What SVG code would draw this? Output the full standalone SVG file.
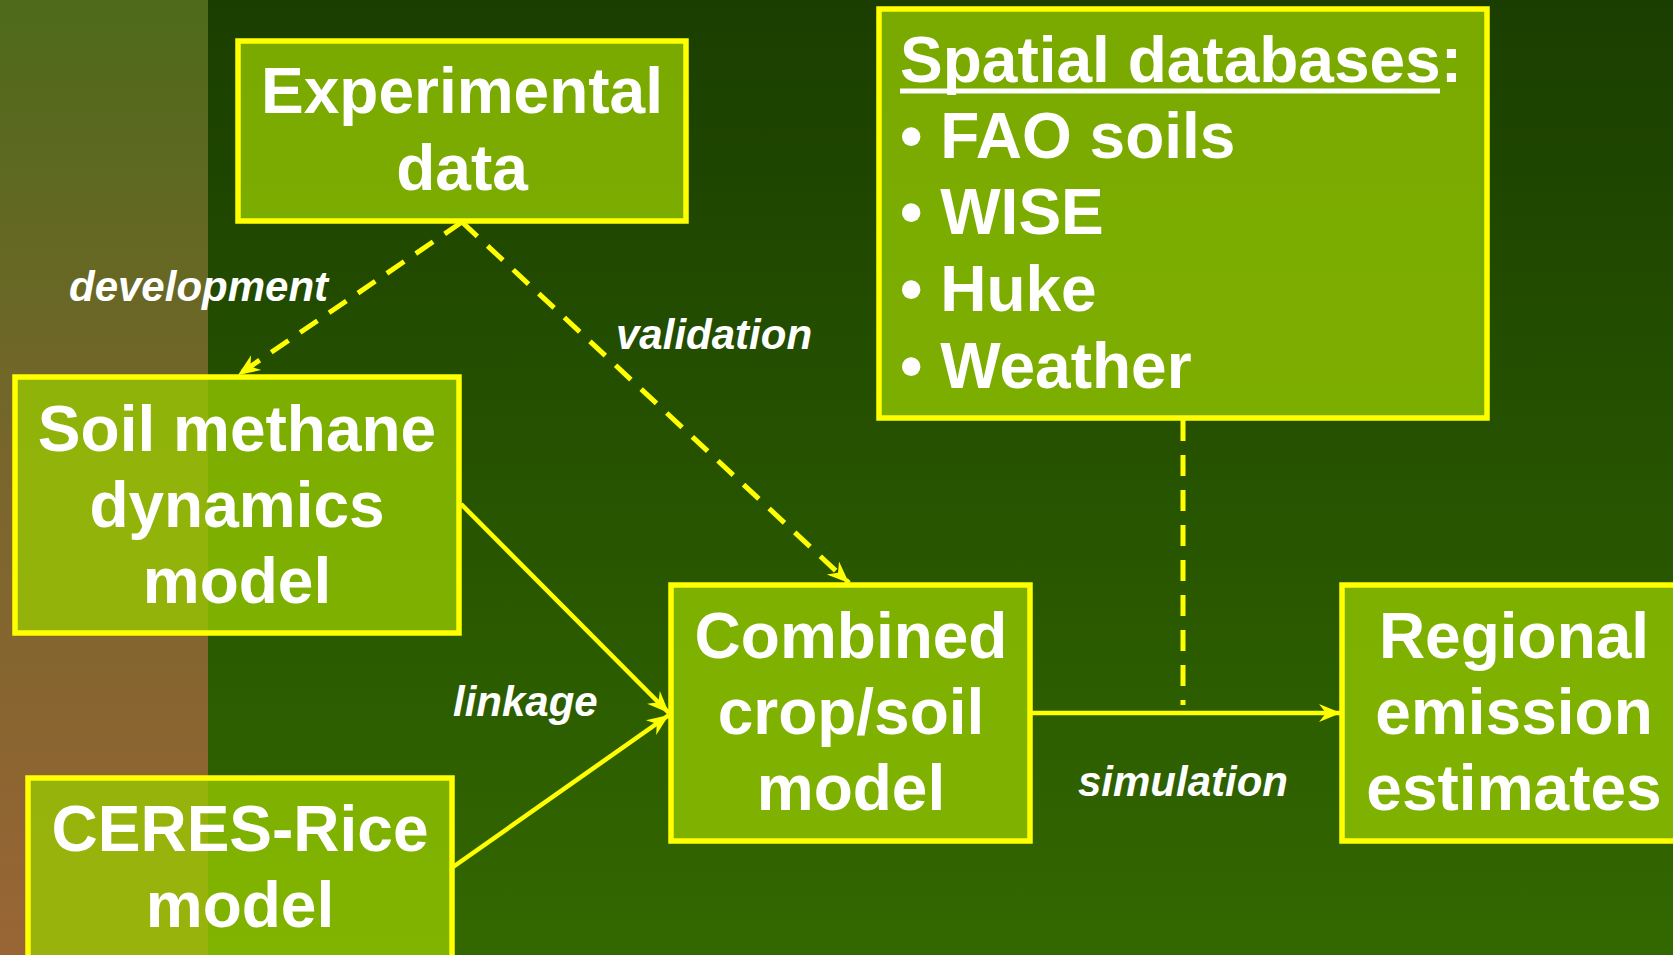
<svg xmlns="http://www.w3.org/2000/svg" width="1673" height="955" viewBox="0 0 1673 955">
<defs>
<linearGradient id="bg" x1="0" y1="0" x2="0" y2="1">
<stop offset="0" stop-color="#1a3e00"/>
<stop offset="1" stop-color="#336800"/>
</linearGradient>
<linearGradient id="strip" x1="0" y1="0" x2="0" y2="1">
<stop offset="0" stop-color="#4e6a1a"/>
<stop offset="0.5" stop-color="#7a662c"/>
<stop offset="1" stop-color="#996535"/>
</linearGradient>
<marker id="arr" markerUnits="userSpaceOnUse" markerWidth="24" markerHeight="20" refX="22" refY="10" orient="auto">
<path d="M0,1 L22,10 L0,19 L7,10 Z" fill="#ffff00"/>
</marker>
<style>
.box{fill:#98cc00;fill-opacity:0.76;stroke:#ffff00;stroke-width:5.5}
.t{font-family:"Liberation Sans",Arial,sans-serif;font-weight:bold;font-size:64px;fill:#ffffff;text-anchor:middle}
.tl{font-family:"Liberation Sans",Arial,sans-serif;font-weight:bold;font-size:64px;fill:#ffffff}
.lbl{font-family:"Liberation Sans",Arial,sans-serif;font-weight:bold;font-style:italic;font-size:42px;fill:#ffffff}
.c{fill:none;stroke:#ffff00;stroke-width:4.5}
.d{stroke-dasharray:21 14;stroke-width:5}
</style>
</defs>
<rect x="0" y="0" width="1673" height="955" fill="url(#bg)"/>
<rect x="0" y="0" width="208" height="955" fill="url(#strip)"/>

<g id="connectors">
<line class="c d" x1="462" y1="222" x2="238" y2="375" marker-end="url(#arr)"/>
<line class="c d" x1="462" y1="222" x2="849" y2="583" marker-end="url(#arr)"/>
<line class="c" x1="461" y1="504" x2="669" y2="713" marker-end="url(#arr)"/>
<line class="c" x1="453" y1="867" x2="669" y2="715" marker-end="url(#arr)"/>
<line class="c" x1="1031" y1="713" x2="1341" y2="713" marker-end="url(#arr)"/>
<line class="c d" x1="1183" y1="420" x2="1183" y2="705"/>
<text class="lbl" x="69" y="301">development</text>
<text class="lbl" x="616" y="349">validation</text>
<text class="lbl" x="453" y="716">linkage</text>
<text class="lbl" x="1078" y="796">simulation</text>
</g>

<g id="experimental">
<rect class="box" x="238" y="41" width="448" height="180"/>
<text class="t" x="462" y="113">Experimental</text>
<text class="t" x="462" y="190">data</text>
</g>

<g id="soil">
<rect class="box" x="15" y="377" width="444" height="256"/>
<text class="t" x="237" y="451">Soil methane</text>
<text class="t" x="237" y="527">dynamics</text>
<text class="t" x="237" y="603">model</text>
</g>

<g id="ceres">
<rect class="box" x="28" y="778" width="424" height="190"/>
<text class="t" x="240" y="851">CERES-Rice</text>
<text class="t" x="240" y="927">model</text>
</g>

<g id="combined">
<rect class="box" x="671" y="585" width="359" height="256"/>
<text class="t" x="851" y="658">Combined</text>
<text class="t" x="851" y="734">crop/soil</text>
<text class="t" x="851" y="810">model</text>
</g>

<g id="regional">
<rect class="box" x="1342" y="585" width="345" height="256"/>
<text class="t" x="1514" y="658">Regional</text>
<text class="t" x="1514" y="734">emission</text>
<text class="t" x="1514" y="810">estimates</text>
</g>

<g id="spatial">
<rect class="box" x="879" y="9" width="608" height="409"/>
<text class="tl" x="900" y="82">Spatial databases:</text>
<line x1="900" y1="91" x2="1440" y2="91" stroke="#ffffff" stroke-width="5"/>
<text class="tl" x="900" y="158">• FAO soils</text>
<text class="tl" x="900" y="234">• WISE</text>
<text class="tl" x="900" y="311">• Huke</text>
<text class="tl" x="900" y="388">• Weather</text>
</g>
</svg>
